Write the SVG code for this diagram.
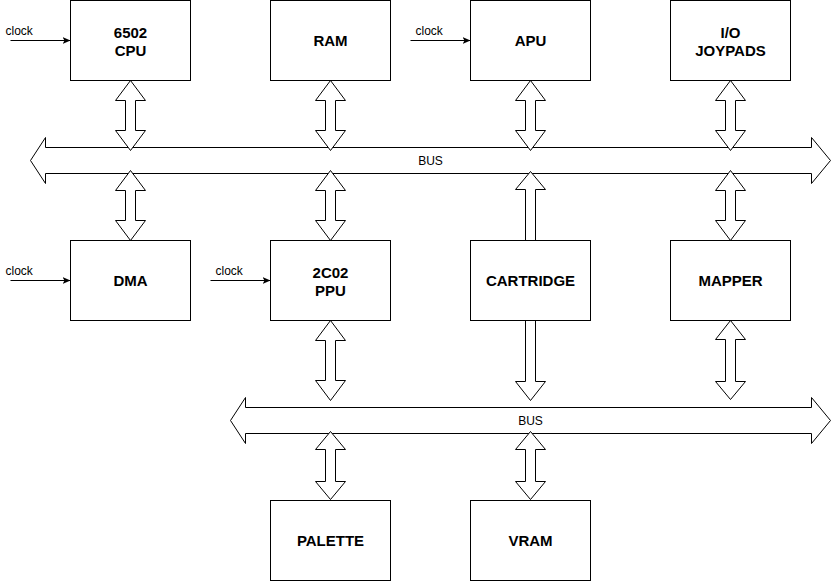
<svg xmlns="http://www.w3.org/2000/svg" width="831" height="581" viewBox="0 0 831 581">
<defs>
<style>
.box{fill:#fff;stroke:#000;stroke-width:1}
.arr{fill:#fff;stroke:#000;stroke-width:1;stroke-linejoin:miter}
.lbl{font-family:"Liberation Sans",Arial,sans-serif;font-weight:bold;font-size:15px;text-anchor:middle;fill:#000}
.sm{font-family:"Liberation Sans",Arial,sans-serif;font-size:12px;fill:#000}
.clk{stroke:#000;stroke-width:1;fill:none}
</style>
<marker id="ah" viewBox="0 0 8 8" refX="8" refY="4" markerWidth="8" markerHeight="8" markerUnits="userSpaceOnUse" orient="auto">
<path d="M0,0.5 L8,4 L0,7.5 L2,4 Z" fill="#000"/>
</marker>
</defs>
<rect width="831" height="581" fill="#fff"/>
<g transform="translate(0.5,0.5)">
<g id="connectors">
<g id="bus1">
<polygon class="arr" points="30,160 45,137 45,147 811,147 811,137 830,160 811,183 811,173 45,173 45,183"/>
<text class="sm" x="430" y="164" text-anchor="middle" font-size="11">BUS</text>
</g>
<g id="bus2">
<polygon class="arr" points="230,420 245,397 245,407 811,407 811,397 830,420 811,443 811,433 245,433 245,443"/>
<text class="sm" x="530" y="424" text-anchor="middle" font-size="11">BUS</text>
</g>
<!-- double arrows row1 to bus1 -->
<polygon class="arr" points="130,80 145,100 135,100 135,130 145,130 130,150 115,130 125,130 125,100 115,100"/>
<polygon class="arr" points="330,80 345,100 335,100 335,130 345,130 330,150 315,130 325,130 325,100 315,100"/>
<polygon class="arr" points="530,80 545,100 535,100 535,130 545,130 530,150 515,130 525,130 525,100 515,100"/>
<polygon class="arr" points="730,80 745,100 735,100 735,130 745,130 730,150 715,130 725,130 725,100 715,100"/>
<!-- bus1 to row2 -->
<polygon class="arr" points="130,170 145,190 135,190 135,220 145,220 130,240 115,220 125,220 125,190 115,190"/>
<polygon class="arr" points="330,170 345,190 335,190 335,220 345,220 330,240 315,220 325,220 325,190 315,190"/>
<polygon class="arr" points="530,171 545,189 535,189 535,240 525,240 525,189 515,189"/>
<polygon class="arr" points="730,170 745,190 735,190 735,220 745,220 730,240 715,220 725,220 725,190 715,190"/>
<!-- row2 to bus2 -->
<polygon class="arr" points="330,320 345,340 335,340 335,380 345,380 330,400 315,380 325,380 325,340 315,340"/>
<polygon class="arr" points="525,320 535,320 535,381 545,381 530,400 515,381 525,381"/>
<polygon class="arr" points="730,320 745,339 735,339 735,381 745,381 730,399 715,381 725,381 725,339 715,339"/>
<!-- bus2 to row3 -->
<polygon class="arr" points="330,431 345,449 335,449 335,481 345,481 330,499 315,481 325,481 325,449 315,449"/>
<polygon class="arr" points="530,431 545,449 535,449 535,481 545,481 530,499 515,481 525,481 525,449 515,449"/>
<!-- clocks -->
<line class="clk" x1="10" y1="40" x2="70" y2="40" marker-end="url(#ah)"/>
<text class="sm" x="5" y="34">clock</text>
<line class="clk" x1="410" y1="40" x2="470" y2="40" marker-end="url(#ah)"/>
<text class="sm" x="415" y="34">clock</text>
<line class="clk" x1="10" y1="280" x2="70" y2="280" marker-end="url(#ah)"/>
<text class="sm" x="5" y="274">clock</text>
<line class="clk" x1="210" y1="280" x2="270" y2="280" marker-end="url(#ah)"/>
<text class="sm" x="215" y="274">clock</text>
</g>
<g id="cpu"><rect class="box" x="70" y="0" width="120" height="80"/><text class="lbl" x="130" y="37.5">6502</text><text class="lbl" x="130" y="55.5">CPU</text></g>
<g id="ram"><rect class="box" x="270" y="0" width="120" height="80"/><text class="lbl" x="330" y="45.5">RAM</text></g>
<g id="apu"><rect class="box" x="470" y="0" width="120" height="80"/><text class="lbl" x="530" y="45.5">APU</text></g>
<g id="io"><rect class="box" x="670" y="0" width="120" height="80"/><text class="lbl" x="730" y="37.5">I/O</text><text class="lbl" x="730" y="55.5">JOYPADS</text></g>
<g id="dma"><rect class="box" x="70" y="240" width="120" height="80"/><text class="lbl" x="130" y="285.5">DMA</text></g>
<g id="ppu"><rect class="box" x="270" y="240" width="120" height="80"/><text class="lbl" x="330" y="277.5">2C02</text><text class="lbl" x="330" y="295.5">PPU</text></g>
<g id="cartridge"><rect class="box" x="470" y="240" width="120" height="80"/><text class="lbl" x="530" y="285.5">CARTRIDGE</text></g>
<g id="mapper"><rect class="box" x="670" y="240" width="120" height="80"/><text class="lbl" x="730" y="285.5">MAPPER</text></g>
<g id="palette"><rect class="box" x="270" y="500" width="120" height="80"/><text class="lbl" x="330" y="545.5">PALETTE</text></g>
<g id="vram"><rect class="box" x="470" y="500" width="120" height="80"/><text class="lbl" x="530" y="545.5">VRAM</text></g>
</g>
</svg>
